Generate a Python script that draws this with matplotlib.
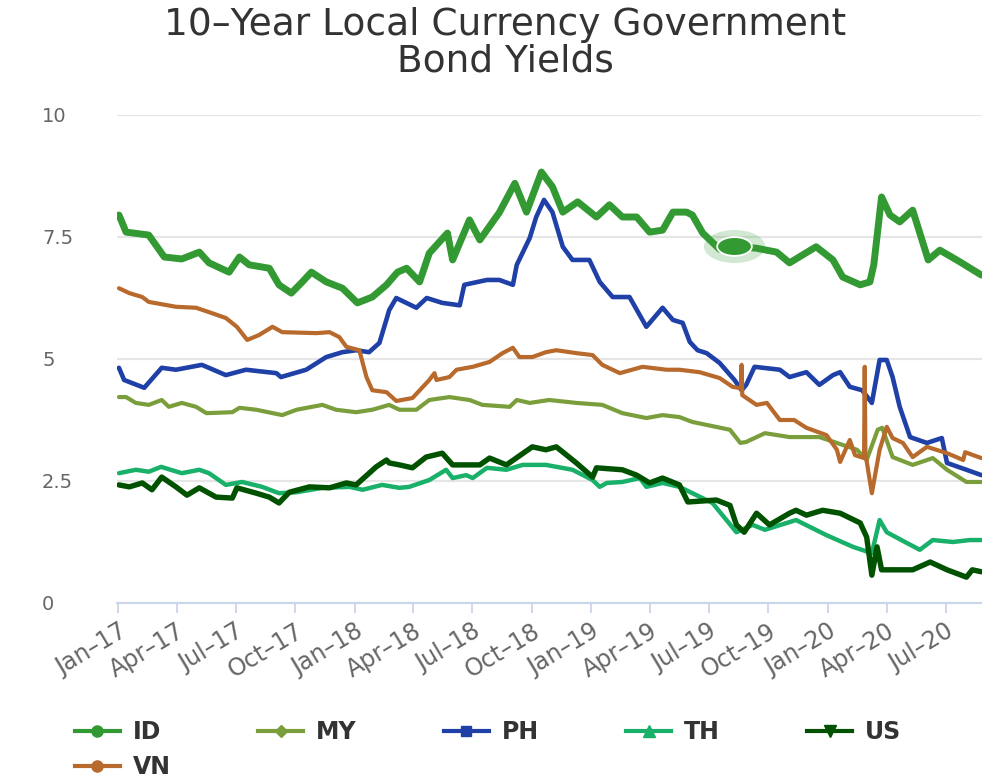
import matplotlib
matplotlib.use("Agg")
import matplotlib.pyplot as plt
from matplotlib.path import Path
from matplotlib.lines import Line2D
import numpy as np
import pandas as pd

# ---------------- data ----------------
ID_DATES = ["2017-01-02","2017-01-13","2017-02-17","2017-03-13","2017-04-09","2017-05-06","2017-05-21",
            "2017-06-21","2017-07-07","2017-07-22","2017-08-22","2017-09-06","2017-09-25","2017-10-12",
            "2017-10-26","2017-11-18","2017-12-13","2018-01-05","2018-01-28","2018-02-19","2018-03-08",
            "2018-03-22","2018-04-11","2018-04-26","2018-05-24","2018-06-01","2018-06-27","2018-07-13",
            "2018-08-12","2018-09-05","2018-09-23","2018-10-16","2018-11-02","2018-11-18","2018-12-11",
            "2019-01-09","2019-01-29","2019-02-18","2019-03-12","2019-04-01","2019-04-21","2019-05-07",
            "2019-05-28","2019-06-06","2019-06-22","2019-07-18","2019-08-10","2019-09-13","2019-10-14",
            "2019-11-03","2019-12-14","2020-01-09","2020-01-24","2020-02-20","2020-03-06","2020-03-12",
            "2020-03-24","2020-04-06","2020-04-21","2020-05-11","2020-06-04","2020-06-22","2020-07-23",
            "2020-08-25"]
ID_VALUES = [7.95,7.60,7.54,7.09,7.05,7.19,6.97,
             6.78,7.09,6.93,6.86,6.52,6.35,6.58,
             6.78,6.58,6.45,6.15,6.27,6.52,6.78,
             6.86,6.58,7.17,7.58,7.03,7.85,7.44,
             8.00,8.60,8.01,8.83,8.53,8.01,8.22,
             7.91,8.16,7.91,7.91,7.60,7.64,8.01,
             8.01,7.95,7.58,7.25,7.31,7.27,7.19,
             6.97,7.30,7.03,6.68,6.52,6.58,6.93,
             8.32,7.95,7.81,8.05,7.03,7.23,6.99,
             6.72]
ID_HIGHLIGHT = "2019-08-10"

MY_DATES = ["2017-01-02","2017-01-13","2017-01-28","2017-02-17","2017-03-09","2017-03-20","2017-04-09",
            "2017-05-01","2017-05-17","2017-06-26","2017-07-07","2017-08-02","2017-09-11","2017-10-03",
            "2017-10-27","2017-11-12","2017-12-03","2018-01-03","2018-01-28","2018-02-23","2018-03-11",
            "2018-04-06","2018-04-26","2018-05-27","2018-06-27","2018-07-17","2018-08-28","2018-09-08",
            "2018-09-28","2018-10-28","2018-12-09","2019-01-18","2019-02-18","2019-03-27","2019-04-21",
            "2019-05-17","2019-06-06","2019-08-03","2019-08-19","2019-08-28","2019-09-26","2019-11-03",
            "2019-12-19","2020-01-15","2020-02-15","2020-03-01","2020-03-18","2020-03-25","2020-04-10",
            "2020-05-11","2020-06-11","2020-07-03","2020-08-02","2020-08-25"]
MY_VALUES = [4.22,4.22,4.10,4.06,4.16,4.02,4.10,
             4.02,3.89,3.91,4.00,3.96,3.85,3.96,
             4.02,4.06,3.96,3.91,3.96,4.06,3.96,
             3.96,4.16,4.22,4.16,4.06,4.02,4.16,
             4.10,4.16,4.10,4.06,3.89,3.79,3.85,
             3.81,3.71,3.55,3.28,3.30,3.48,3.40,
             3.40,3.28,3.14,2.93,3.55,3.59,2.99,
             2.83,2.97,2.73,2.48,2.48]

PH_DATES = ["2017-01-02","2017-01-10","2017-02-10","2017-03-09","2017-03-31","2017-05-10","2017-06-16",
            "2017-07-17","2017-09-02","2017-09-09","2017-10-18","2017-11-18","2017-12-13","2018-01-03",
            "2018-01-23","2018-02-08","2018-02-20","2018-02-23","2018-03-06","2018-04-06","2018-04-22",
            "2018-05-16","2018-06-12","2018-06-19","2018-07-24","2018-08-12","2018-09-02","2018-09-08",
            "2018-09-28","2018-10-08","2018-10-20","2018-11-02","2018-11-18","2018-12-03","2018-12-29",
            "2019-01-14","2019-02-03","2019-03-01","2019-03-27","2019-04-21","2019-05-07","2019-05-22",
            "2019-06-02","2019-06-14","2019-06-28","2019-07-18","2019-08-10","2019-08-21","2019-08-28",
            "2019-09-10","2019-10-19","2019-11-03","2019-11-29","2019-12-19","2020-01-09","2020-01-20",
            "2020-02-04","2020-02-23","2020-03-09","2020-03-21","2020-04-01","2020-04-10","2020-04-21",
            "2020-05-07","2020-06-02","2020-06-25","2020-07-03","2020-08-02","2020-08-25"]
PH_VALUES = [4.82,4.57,4.41,4.82,4.78,4.88,4.67,
             4.78,4.71,4.63,4.78,5.04,5.14,5.18,
             5.14,5.33,5.86,6.00,6.25,6.05,6.25,
             6.15,6.10,6.52,6.62,6.62,6.52,6.93,
             7.48,7.91,8.26,8.01,7.30,7.03,7.03,
             6.58,6.27,6.27,5.66,6.05,5.80,5.74,
             5.35,5.18,5.12,4.92,4.57,4.36,4.47,
             4.84,4.78,4.63,4.73,4.47,4.67,4.73,
             4.43,4.36,4.10,4.98,4.98,4.63,4.02,
             3.40,3.28,3.38,2.87,2.73,2.62]

TH_DATES = ["2017-01-02","2017-01-28","2017-02-17","2017-03-08","2017-04-09","2017-05-06","2017-05-21",
            "2017-06-16","2017-07-11","2017-08-11","2017-09-06","2017-10-03","2017-11-12","2017-12-24",
            "2018-01-13","2018-02-12","2018-03-11","2018-03-26","2018-04-26","2018-05-22","2018-06-01",
            "2018-06-22","2018-07-02","2018-07-24","2018-08-23","2018-09-17","2018-10-23","2018-12-03",
            "2019-01-03","2019-01-14","2019-01-25","2019-02-18","2019-03-17","2019-03-27","2019-04-21",
            "2019-05-17","2019-07-07","2019-08-13","2019-09-07","2019-09-26","2019-11-13","2019-12-30",
            "2020-02-09","2020-03-09","2020-03-21","2020-04-01","2020-05-02","2020-05-22","2020-06-11",
            "2020-07-12","2020-08-07","2020-08-25"]
TH_VALUES = [2.66,2.73,2.69,2.79,2.66,2.73,2.66,
             2.42,2.48,2.38,2.25,2.27,2.36,2.38,
             2.32,2.42,2.36,2.38,2.52,2.73,2.56,
             2.62,2.56,2.77,2.73,2.83,2.83,2.73,
             2.52,2.38,2.46,2.48,2.56,2.38,2.46,
             2.38,2.05,1.45,1.60,1.50,1.70,1.39,
             1.15,1.02,1.70,1.45,1.23,1.09,1.29,
             1.25,1.29,1.29]

US_DATES = ["2017-01-02","2017-01-18","2017-02-07","2017-02-22","2017-03-09","2017-03-31","2017-04-17",
            "2017-05-06","2017-06-01","2017-06-26","2017-07-03","2017-08-02","2017-08-22","2017-09-06",
            "2017-09-22","2017-10-23","2017-11-23","2017-12-19","2018-01-03","2018-02-03","2018-02-19",
            "2018-02-23","2018-03-11","2018-03-31","2018-04-21","2018-05-16","2018-06-01","2018-07-13",
            "2018-07-28","2018-08-23","2018-10-02","2018-10-23","2018-11-08","2018-12-09","2019-01-03",
            "2019-01-09","2019-02-18","2019-03-12","2019-04-01","2019-04-21","2019-05-17","2019-05-30",
            "2019-07-13","2019-08-03","2019-08-13","2019-08-25","2019-09-13","2019-10-03","2019-11-03",
            "2019-11-13","2019-11-29","2019-12-24","2020-01-20","2020-02-20","2020-03-01","2020-03-09",
            "2020-03-17","2020-03-24","2020-05-11","2020-06-07","2020-07-03","2020-08-02","2020-08-11",
            "2020-08-25"]
US_VALUES = [2.42,2.38,2.46,2.32,2.58,2.38,2.21,
             2.36,2.17,2.15,2.36,2.25,2.17,2.05,
             2.27,2.38,2.36,2.46,2.42,2.79,2.93,
             2.87,2.83,2.77,2.99,3.07,2.83,2.83,
             2.97,2.83,3.20,3.14,3.20,2.87,2.58,
             2.77,2.73,2.62,2.46,2.56,2.42,2.07,
             2.11,2.00,1.60,1.45,1.84,1.60,1.84,
             1.90,1.80,1.90,1.84,1.64,1.35,0.57,
             1.15,0.68,0.68,0.84,0.68,0.53,0.68,
             0.64]

VN_DATES = ["2017-01-02","2017-01-18","2017-02-07","2017-02-17","2017-03-31","2017-05-01","2017-05-21",
            "2017-06-16","2017-07-03","2017-07-19","2017-08-06","2017-08-27","2017-09-11","2017-11-03",
            "2017-11-23","2017-12-08","2017-12-19","2018-01-08","2018-01-19","2018-01-28","2018-02-19",
            "2018-03-06","2018-03-31","2018-04-26","2018-05-04","2018-05-07","2018-05-27","2018-06-07",
            "2018-07-02","2018-07-28","2018-08-17","2018-09-02","2018-09-12","2018-10-02","2018-10-23",
            "2018-11-08","2018-12-09","2019-01-03","2019-01-18","2019-02-14","2019-03-21","2019-04-27",
            "2019-05-17","2019-06-17","2019-07-18","2019-08-07","2019-08-20","2019-08-21","2019-08-22",
            "2019-09-13","2019-09-29","2019-10-19","2019-11-10","2019-11-29","2019-12-30","2020-01-15",
            "2020-01-20","2020-02-04","2020-02-12","2020-02-26","2020-02-27","2020-02-28","2020-03-09",
            "2020-03-21","2020-04-01","2020-04-10","2020-04-26","2020-05-11","2020-06-02","2020-07-03",
            "2020-07-28","2020-07-31","2020-08-25"]
VN_VALUES = [6.45,6.35,6.27,6.17,6.07,6.05,5.96,
             5.84,5.66,5.39,5.49,5.66,5.55,5.53,
             5.55,5.45,5.25,5.18,4.63,4.36,4.32,
             4.14,4.20,4.57,4.71,4.57,4.63,4.78,
             4.84,4.94,5.12,5.23,5.04,5.04,5.14,
             5.18,5.12,5.08,4.88,4.71,4.84,4.78,
             4.78,4.73,4.61,4.43,4.40,4.88,4.26,
             4.06,4.10,3.75,3.75,3.59,3.44,3.14,
             2.89,3.34,3.03,2.97,4.84,3.07,2.25,
             3.14,3.61,3.38,3.28,2.99,3.20,3.07,
             2.93,3.09,2.97]

SERIES = ["ID", "MY", "PH", "TH", "US", "VN"]
X_TICK_DATES = ["2017-01-01","2017-04-01","2017-07-01","2017-10-01","2018-01-01","2018-04-01",
                "2018-07-01","2018-10-01","2019-01-01","2019-04-01","2019-07-01","2019-10-01",
                "2020-01-01","2020-04-01","2020-07-01"]
X_TICK_LABELS = ["Jan–17","Apr–17","Jul–17","Oct–17","Jan–18","Apr–18","Jul–18","Oct–18",
                 "Jan–19","Apr–19","Jul–19","Oct–19","Jan–20","Apr–20","Jul–20"]
Y_TICKS = [0, 2.5, 5, 7.5, 10]
Y_TICK_LABELS = ["0", "2.5", "5", "7.5", "10"]
TITLE = "10–Year Local Currency Government\nBond Yields"

# ---------------- styling ----------------
COLORS = {"ID": "#339933", "MY": "#7a9e3c", "PH": "#1f40a6",
          "TH": "#19b06a", "US": "#005200", "VN": "#b8692c"}
WIDTHS = {"ID": 5.0, "MY": 3.0, "PH": 3.3, "TH": 3.2, "US": 3.9, "VN": 3.0}
MARKERS = {"ID": "o", "MY": "D", "PH": "s", "TH": "^", "US": "v", "VN": "o"}
MSIZE = {"ID": 8, "MY": 6.5, "PH": 7.5, "TH": 8.5, "US": 8.5, "VN": 8}

data = {
    "ID": (ID_DATES, ID_VALUES), "MY": (MY_DATES, MY_VALUES), "PH": (PH_DATES, PH_VALUES),
    "TH": (TH_DATES, TH_VALUES), "US": (US_DATES, US_VALUES), "VN": (VN_DATES, VN_VALUES),
}

plt.rcParams["font.family"] = ["DejaVu Sans"]

W, H = 982, 778
fig = plt.figure(figsize=(W / 100, H / 100), dpi=100)
ax = fig.add_axes([117 / W, 1 - 603 / H, 865 / W, (603 - 115) / H])

for i, name in enumerate(SERIES):
    d, v = data[name]
    ax.plot(pd.to_datetime(d), v, color=COLORS[name], lw=WIDTHS[name],
            solid_joinstyle="round", solid_capstyle="round", zorder=3 + i)

# hover-highlighted point on ID (elliptical because the reference is stretched)
t = np.linspace(0, 2 * np.pi, 60)
ellipse = Path(np.column_stack([1.85 * np.cos(t), np.sin(t)]), closed=True)
hidx = ID_DATES.index(ID_HIGHLIGHT)
hx = pd.to_datetime(ID_DATES[hidx])
hy = ID_VALUES[hidx]
ax.plot([hx], [hy], marker=ellipse, ms=44, color=COLORS["ID"], alpha=0.22,
        markeredgewidth=0, linestyle="none", zorder=20)
ax.plot([hx], [hy], marker=ellipse, ms=25, markerfacecolor=COLORS["ID"],
        markeredgecolor="white", markeredgewidth=1.3, linestyle="none", zorder=21)

ax.set_xlim(pd.Timestamp("2016-12-30"), pd.Timestamp("2020-08-26"))
ax.set_ylim(0, 10)

ax.set_yticks(Y_TICKS)
ax.set_yticklabels(Y_TICK_LABELS)
ax.set_xticks(pd.to_datetime(X_TICK_DATES))
ax.set_xticklabels(X_TICK_LABELS)

for s in ["top", "right", "left"]:
    ax.spines[s].set_visible(False)
ax.spines["bottom"].set_color("#ccd6eb")
ax.spines["bottom"].set_linewidth(1.5)
ax.spines["bottom"].set_zorder(2)

ax.yaxis.grid(True, color="#e6e6e6", lw=1.6)
ax.set_axisbelow(True)

ax.tick_params(axis="y", length=0, pad=54, labelsize=14, labelcolor="#666666")
for lab in ax.get_yticklabels():
    lab.set_horizontalalignment("left")
ax.tick_params(axis="x", length=7.5, width=1.3, color="#ccd6eb", pad=4,
               labelsize=17, labelcolor="#666666")
for lab in ax.get_xticklabels():
    lab.set_rotation(31)
    lab.set_horizontalalignment("right")
    lab.set_rotation_mode("anchor")

fig.text(505 / W, 1 - 7 / H, TITLE, ha="center", va="top", fontsize=27,
         color="#333333", linespacing=1.03)

handles = {}
for name in SERIES:
    handles[name] = Line2D([], [], color=COLORS[name], lw=3, marker=MARKERS[name],
                           ms=MSIZE[name], label=name)
order = ["ID", "VN", "MY", "PH", "TH", "US"]
fig.legend([handles[n] for n in order], order, ncol=5, loc="upper left",
           bbox_to_anchor=(75 / W, 1 - 720 / H), frameon=False, borderpad=0,
           borderaxespad=0, handlelength=1.9, handletextpad=0.55, columnspacing=3.7,
           labelspacing=0.48, prop={"weight": "bold", "size": 17},
           labelcolor="#333333")

fig.savefig("out.png", dpi=100)
